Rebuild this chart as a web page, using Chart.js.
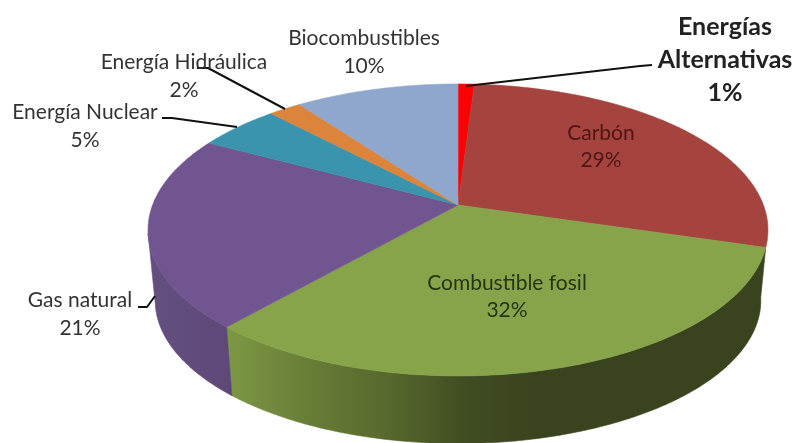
<!DOCTYPE html>
<html>
<head>
<meta charset="utf-8">
<title>Fuentes de energía</title>
<script src="https://cdn.jsdelivr.net/npm/chart.js@4/dist/chart.umd.min.js"></script>
<style>
    html, body { margin: 0; padding: 0; background: #fff; }
    canvas { display: block; }
</style>
</head>
<body>
<canvas id="grafico" width="797" height="443"></canvas>
<script>
// Datos
const categorias = ["Energías Alternativas", "Carbón", "Combustible fosil", "Gas natural", "Energía Nuclear", "Energía Hidráulica", "Biocombustibles"];
const valores = [1, 29, 32, 21, 5, 2, 10];
const colores = ["#ff0000", "#a5443f", "#87a44b", "#715590", "#3b94ad", "#dc843b", "#8fa6cd"];

// Perspectiva del disco
const cx = 458, cy = 205;
const A = 305.4, B = 141.7, k = 0.171;
const grosor = 71, escalaBase = 0.977;
const tangente = Math.asin(k);

// Degradado de la pared lateral: [x0, x1, paradas]
const paredes = {
    2: [232, 540, [[0, "#7b9743"], [0.22, "#6a8038"], [0.52, "#56672c"], [0.76, "#404d22"], [1, "#39431e"]]],
    3: [150, 232, [[0, "#64507f"], [1, "#5d4878"]]]
};

// Posicion de cada rotulo: x, y de cada linea y tamano
const rotulos = [
    { lineas: ["Energías", "Alternativas", "1%"], x: 725, ys: [27, 60, 93], bold: true, size: 25, color: "#222" },
    { lineas: ["Carbón", "29%"], x: 601, ys: [133, 160], size: 21, color: "#4e1714" },
    { lineas: ["Combustible fosil", "32%"], x: 507, ys: [283, 310], size: 21, color: "#26360f" },
    { lineas: ["Gas natural", "21%"], x: 80, ys: [300, 328], size: 21, color: "#333" },
    { lineas: ["Energía Nuclear", "5%"], x: 85, ys: [112, 140], size: 21, color: "#333" },
    { lineas: ["Energía Hidráulica", "2%"], x: 184, ys: [62, 90], size: 21, color: "#333" },
    { lineas: ["Biocombustibles", "10%"], x: 364, ys: [38, 66], size: 21, color: "#333" }
];

// Lineas guia hacia las porciones pequenas
const guias = [
    [[652, 65], [640, 66], [466, 86]],
    [[197, 68], [208, 68], [285, 109]],
    [[162, 118], [172, 118], [237, 127]],
    [[138, 307], [147, 307], [155, 296]]
];

function punto(ang0, base) {
    // la vista inclinada comprime un poco los angulos del frente
    let ang = ang0 - 0.019 * (1 + Math.sin(ang0));
    let w = 1 - k * Math.sin(ang);
    let x = A * Math.cos(ang) / w;
    let y = B * Math.sin(ang) / w;
    if (base) {
        return [cx + x * escalaBase, cy + y * 0.98 + grosor];
    }
    return [cx + x, cy + y];
}

function arco(ctx, a0, a1, base) {
    let pasos = Math.max(2, Math.ceil(Math.abs(a1 - a0) / 0.01));
    for (let i = 0; i <= pasos; i++) {
        let p = punto(a0 + (a1 - a0) * i / pasos, base);
        ctx.lineTo(p[0], p[1]);
    }
}

function dibujarPared(ctx, arc, i) {
    let der = tangente, izq = Math.PI - tangente;
    let ini = arc.startAngle, fin = arc.endAngle;
    let a0 = Math.max(ini, der), a1 = Math.min(fin, izq);
    if (!paredes[i] || a1 <= a0) return;
    // la base arranca en la tangente para que el contorno quede limpio
    let b0 = (ini > der && ini - der < 0.2) ? der : a0;
    let def = paredes[i];
    let grad = ctx.createLinearGradient(def[0], 0, def[1], 0);
    def[2].forEach(function (s) { grad.addColorStop(s[0], s[1]); });
    ctx.beginPath();
    arco(ctx, a0, a1, false);
    arco(ctx, a1, b0, true);
    ctx.closePath();
    ctx.fillStyle = grad;
    ctx.strokeStyle = grad;
    ctx.lineWidth = 0.6;
    ctx.fill();
    ctx.stroke();
}

function dibujarPorcion(ctx, arc, color) {
    ctx.beginPath();
    ctx.moveTo(cx, cy);
    arco(ctx, arc.startAngle, arc.endAngle, false);
    ctx.closePath();
    ctx.fillStyle = color;
    ctx.strokeStyle = color;
    ctx.lineWidth = 0.6;
    ctx.fill();
    ctx.stroke();
}

const pastel3d = {
    id: "pastel3d",
    beforeDatasetDraw: function () {
        return false; // el disco se dibuja abajo con los angulos de cada arco
    },
    afterDatasetsDraw: function (chart) {
        let ctx = chart.ctx;
        let arcos = chart.getDatasetMeta(0).data;
        ctx.save();
        ctx.lineJoin = "round";
        arcos.forEach(function (arc, i) { dibujarPared(ctx, arc, i); });
        arcos.forEach(function (arc, i) { dibujarPorcion(ctx, arc, colores[i]); });

        ctx.strokeStyle = "#111";
        ctx.lineWidth = 2;
        guias.forEach(function (g) {
            ctx.beginPath();
            g.forEach(function (p) { ctx.lineTo(p[0], p[1]); });
            ctx.stroke();
        });

        ctx.textAlign = "center";
        ctx.textBaseline = "middle";
        rotulos.forEach(function (r) {
            ctx.font = (r.bold ? "bold " : "") + r.size + "px Lato";
            ctx.fillStyle = r.color;
            r.lineas.forEach(function (t, j) { ctx.fillText(t, r.x, r.ys[j]); });
        });
        ctx.restore();
    }
};

var grafico = document.getElementById("grafico").getContext("2d");

var migrafico = new Chart(grafico, {
    type: "pie",
    data: {
        labels: categorias,
        datasets: [{
            data: valores,
            backgroundColor: colores,
            borderWidth: 0
        }]
    },
    options: {
        responsive: false,
        animation: false,
        plugins: {
            legend: { display: false },
            tooltip: { enabled: false }
        }
    },
    plugins: [pastel3d]
});
</script>
</body>
</html>
